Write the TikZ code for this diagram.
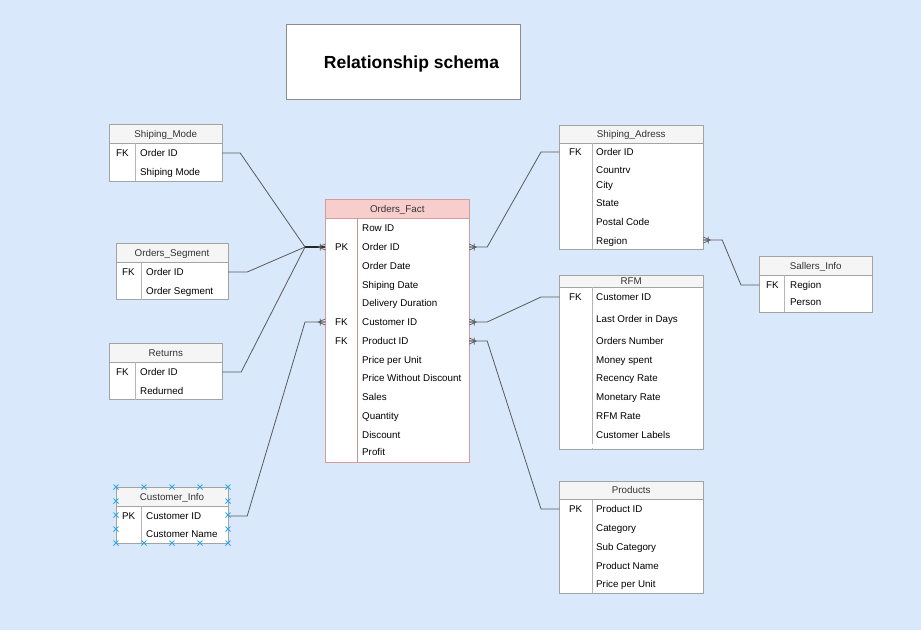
\documentclass[tikz,border=0pt]{standalone}
\usepackage{fontspec}
\setmainfont{Liberation Sans}
\usetikzlibrary{fit}
\definecolor{bgc}{HTML}{DAE8FC}
\definecolor{tabline}{HTML}{A3A3A3}
\definecolor{hdrfill}{HTML}{F5F5F5}
\definecolor{hdrtext}{HTML}{333333}
\definecolor{factline}{HTML}{D49C9C}
\definecolor{factfill}{HTML}{F8CECC}
\definecolor{connc}{HTML}{5A5A5A}
\definecolor{selx}{HTML}{2EA8E6}
\definecolor{titleline}{HTML}{8C8C8C}

\newcommand{\ertab}[9]{%
  \filldraw[#9box] (#2,#3) rectangle (#4,#5);
  \node[fit={(#2,#3) (#4,#5)}, inner sep=0pt] (#1) {};
  \filldraw[#9hdr] (#2,#3) rectangle (#4,#6);
  \node[hdrlabel] (#1-title) at ({(#2+#4)/2},{(#3+#6)/2}) {#8};
  \draw[#9div] (#7,#6) -- (#7,#5);
}
\newcommand{\ercol}[4]{\node[rowlabel] (#1) at (#2,#3) {#4};}

\begin{document}
\begin{tikzpicture}[x=1pt,y=-1pt,
  plainbox/.style={draw=tabline, fill=white, line width=0.9pt},
  plainhdr/.style={draw=tabline, fill=hdrfill, line width=0.9pt},
  plaindiv/.style={draw=tabline!80, line width=0.8pt},
  factbox/.style={draw=factline, fill=white, line width=0.9pt},
  facthdr/.style={draw=factline, fill=factfill, line width=0.9pt},
  factdiv/.style={draw=factline!80!gray, line width=0.8pt},
  hdrlabel/.style={anchor=base, inner sep=0pt, yshift=-3.6pt, text=hdrtext, font=\fontsize{9.8}{11}\selectfont},
  rowlabel/.style={anchor=base west, inner sep=0pt, yshift=-3.6pt, font=\fontsize{9.8}{11}\selectfont},
  conn/.style={draw=connc, line width=0.8pt},
  connk/.style={draw=black!85, line width=1.1pt},
  crowline/.style={draw=connc, line width=0.7pt},
  crow/.pic={\draw[crowline] (0,-3) -- (7,0) -- (0,3) (0,0) -- (7,0) (5,-3.5) -- (5,3.5);},
  selmark/.style={draw=selx, line width=0.8pt},
]
\fill[bgc] (0,0) rectangle (921,630);
\useasboundingbox (0,0) rectangle (921,630);

% title
\node[draw=titleline, fill=white, line width=1pt, minimum width=234pt, minimum height=75pt, inner sep=0pt] (titlebox) at (403,61.5) {};
\node[font=\fontsize{17.5}{20}\selectfont\bfseries, inner sep=0pt, anchor=base, yshift=-6.3pt] (titletext) at (411.5,62) {Relationship schema};

% Shiping_Mode
\ertab{sm}{109.5}{124.5}{222}{181}{143}{135}{Shiping\_Mode}{plain}
\ercol{sm-k}{116}{153}{FK}
\ercol{sm-oid}{140}{153}{Order ID}
\ercol{sm-mode}{140}{172}{Shiping Mode}

% Orders_Segment
\ertab{os}{116}{243.5}{228}{299.5}{262}{141}{Orders\_Segment}{plain}
\ercol{os-k}{122}{272}{FK}
\ercol{os-oid}{146}{272}{Order ID}
\ercol{os-seg}{146}{291}{Order Segment}

% Returns
\ertab{rt}{109.5}{343.5}{222}{399.5}{362}{135}{Returns}{plain}
\ercol{rt-k}{116}{372}{FK}
\ercol{rt-oid}{140}{372}{Order ID}
\ercol{rt-ret}{140}{391}{Redurned}

% Customer_Info
\ertab{ci}{116}{487}{228}{543}{506}{141}{Customer\_Info}{plain}
\ercol{ci-k}{122}{516}{PK}
\ercol{ci-cid}{146}{516}{Customer ID}
\ercol{ci-name}{146}{534}{Customer Name}

% Orders_Fact
\ertab{of}{325.5}{199.5}{469}{462}{218}{357}{Orders\_Fact}{fact}
\ercol{of-k1}{335}{247}{PK}
\ercol{of-k2}{335}{322}{FK}
\ercol{of-k3}{335}{341}{FK}
\ercol{of-rid}{362}{228}{Row ID}
\ercol{of-oid}{362}{247}{Order ID}
\ercol{of-odate}{362}{266}{Order Date}
\ercol{of-sdate}{362}{285}{Shiping Date}
\ercol{of-dur}{362}{303}{Delivery Duration}
\ercol{of-cid}{362}{322}{Customer ID}
\ercol{of-pid}{362}{341}{Product ID}
\ercol{of-ppu}{362}{360}{Price per Unit}
\ercol{of-pwd}{362}{378}{Price Without Discount}
\ercol{of-sales}{362}{397}{Sales}
\ercol{of-qty}{362}{416}{Quantity}
\ercol{of-disc}{362}{435}{Discount}
\ercol{of-profit}{362}{452}{Profit}

% Shiping_Adress
\ertab{sa}{559.5}{125}{703}{249}{143}{592}{Shiping\_Adress}{plain}
\ercol{sa-k}{569}{152}{FK}
\ercol{sa-oid}{596}{152}{Order ID}
\ercol{sa-country}{596}{170}{Countrv}
\ercol{sa-city}{596}{185}{City}
\ercol{sa-state}{596}{203}{State}
\ercol{sa-postal}{596}{222}{Postal Code}
\ercol{sa-region}{596}{241}{Region}

% Sallers_Info
\ertab{si}{759.5}{256}{872}{312}{275}{784}{Sallers\_Info}{plain}
\ercol{si-k}{766}{285}{FK}
\ercol{si-region}{790}{285}{Region}
\ercol{si-person}{790}{302}{Person}

% RFM
\ertab{rfm}{559.5}{275}{703}{449}{287}{592}{RFM}{plain}
\fill[white] (590,443.5) rectangle (594,448.4);
\ercol{rfm-k}{569}{297}{FK}
\ercol{rfm-cid}{596}{297}{Customer ID}
\ercol{rfm-last}{596}{319}{Last Order in Days}
\ercol{rfm-num}{596}{341}{Orders Number}
\ercol{rfm-money}{596}{360}{Money spent}
\ercol{rfm-rec}{596}{378}{Recency Rate}
\ercol{rfm-mon}{596}{397}{Monetary Rate}
\ercol{rfm-rate}{596}{416}{RFM Rate}
\ercol{rfm-lab}{596}{435}{Customer Labels}

% Products
\ertab{pr}{559.5}{481}{703}{593}{499.5}{592}{Products}{plain}
\ercol{pr-k}{569}{509}{PK}
\ercol{pr-pid}{596}{509}{Product ID}
\ercol{pr-cat}{596}{528}{Category}
\ercol{pr-sub}{596}{547}{Sub Category}
\ercol{pr-name}{596}{566}{Product Name}
\ercol{pr-ppu}{596}{584}{Price per Unit}

% junction / bend points
\coordinate (jOrd) at (305,247);
\coordinate (jCus) at (305,322);
\coordinate (bSA) at (541,152);
\coordinate (bRFM) at (541,297);
\coordinate (bPR) at (541,509);
\coordinate (bSI) at (741,285);

% left connectors
\draw[conn] ([yshift=3.6pt]sm-oid.base -| sm.east) -- ++(18,0) -- (jOrd);
\draw[conn] ([yshift=3.6pt]os-oid.base -| os.east) -- ++(19,0) -- (jOrd);
\draw[conn] ([yshift=3.6pt]rt-oid.base -| rt.east) -- ++(19,0) -- (jOrd);
\draw[connk] (jOrd) -- (jOrd -| of.west);
\path (jOrd -| of.west) pic[xscale=-1]{crow};
\draw[conn] ([yshift=3.6pt]ci-cid.base -| ci.east) -- ++(19,0) -- (jCus) -- (jCus -| of.west);
\path (jCus -| of.west) pic[xscale=-1]{crow};

% right connectors
\draw[conn] ([yshift=3.6pt]of-oid.base -| of.east) -- ++(18,0) -- (bSA) -- (bSA -| sa.west);
\path ([yshift=3.6pt]of-oid.base -| of.east) pic{crow};
\draw[conn] ([yshift=3.6pt]of-cid.base -| of.east) -- ++(18,0) -- (bRFM) -- (bRFM -| rfm.west);
\path ([yshift=3.6pt]of-cid.base -| of.east) pic{crow};
\draw[conn] ([yshift=3.6pt]of-pid.base -| of.east) -- ++(18,0) -- (bPR) -- (bPR -| pr.west);
\path ([yshift=3.6pt]of-pid.base -| of.east) pic{crow};
\draw[conn] ([yshift=3.6pt]sa-oid.base -| sa.east) ++(0,88) coordinate (saReg) -- ++(19,0) -- (bSI) -- (bSI -| si.west);
\path (saReg) pic{crow};

% selection marks on Customer_Info
\foreach \xx in {116,144,172,200,228} {
  \foreach \yy in {487,543} {
    \draw[selmark] (\xx-2.5,\yy-2.5) -- (\xx+2.5,\yy+2.5) (\xx-2.5,\yy+2.5) -- (\xx+2.5,\yy-2.5);
  }
}
\foreach \xx in {116,228} {
  \foreach \yy in {501,515,529} {
    \draw[selmark] (\xx-2.5,\yy-2.5) -- (\xx+2.5,\yy+2.5) (\xx-2.5,\yy+2.5) -- (\xx+2.5,\yy-2.5);
  }
}
\end{tikzpicture}
\end{document}
